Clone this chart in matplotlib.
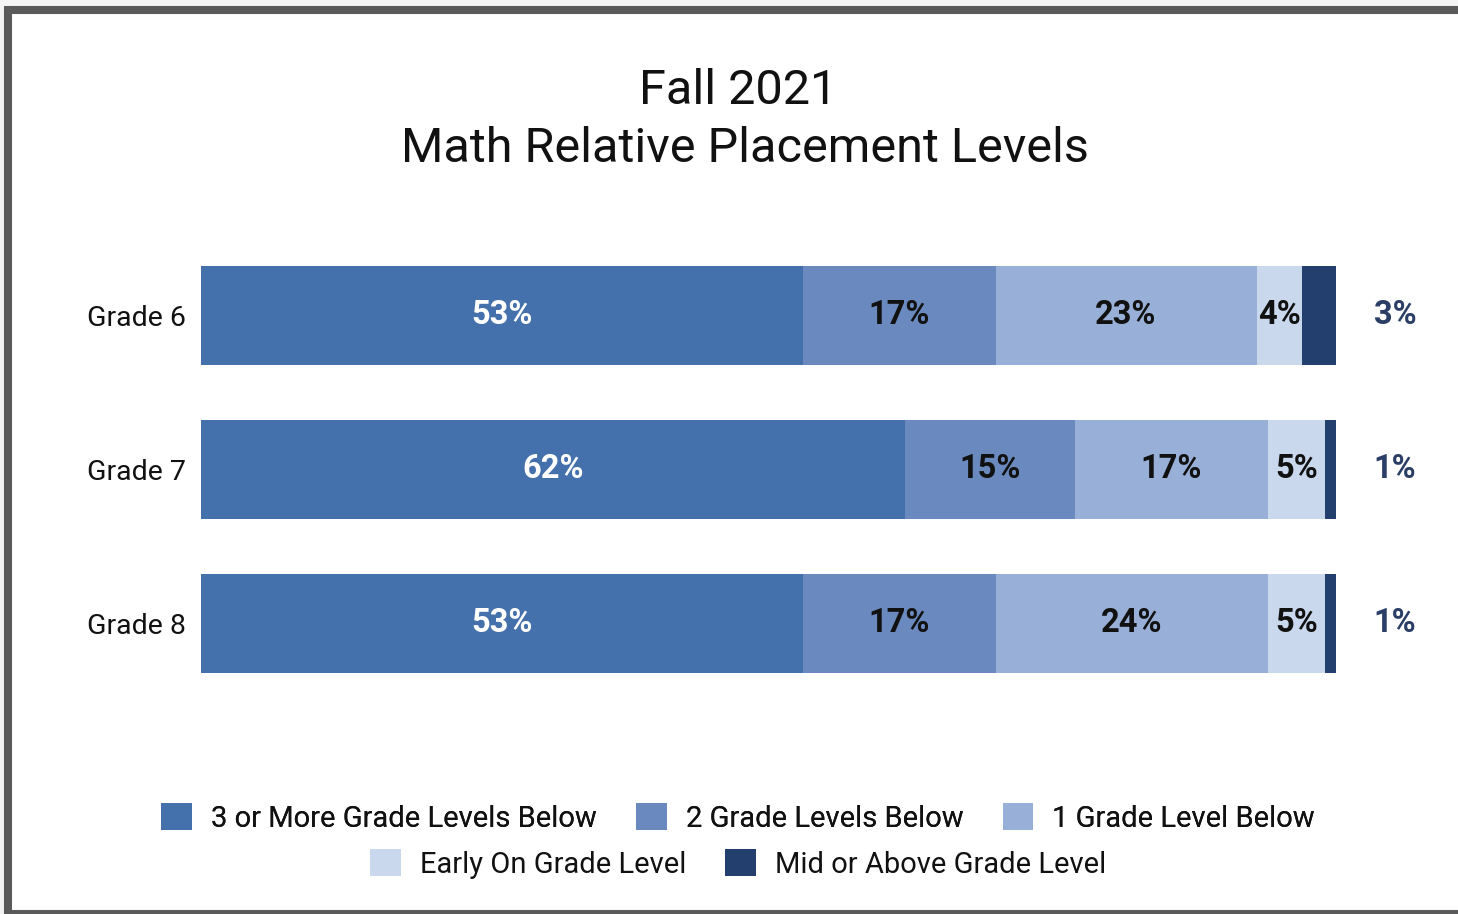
"""
Stacked horizontal bars of math relative placement levels by grade
"""
import matplotlib.pyplot as plt
from matplotlib.patches import Rectangle, Patch

plt.rcParams['font.family'] = ['Roboto', 'DejaVu Sans']

grades = ["Grade 6", "Grade 7", "Grade 8"]
levels = ["3 or More Grade Levels Below", "2 Grade Levels Below", "1 Grade Level Below",
          "Early On Grade Level", "Mid or Above Grade Level"]
three_plus_below = [53, 62, 53]
two_below = [17, 15, 17]
one_below = [23, 17, 24]
early_on = [4, 5, 5]
mid_above = [3, 1, 1]

series = [three_plus_below, two_below, one_below, early_on, mid_above]
colors = ["#4470ab", "#6a89bf", "#98afd7", "#c9d8ed", "#233f6e"]
label_colors = ["white", "#111111", "#111111", "#111111", None]

W, H = 1458, 914
fig = plt.figure(figsize=(W / 100, H / 100), dpi=100, facecolor="#f4f4f4")

# card with a dark frame, kept behind the axes
fig.patches.append(Rectangle((8 / W, 0), 1.2, 1 - 10 / H, transform=fig.transFigure,
                             facecolor="white", edgecolor="#5a5a5a", linewidth=5.8, zorder=-1))

ax = fig.add_axes([201 / W, 1 - 700 / H, 1135 / W, 462 / H])
ax.set_facecolor("none")

bar_h = 99 / 154
left = [0, 0, 0]
for vals, col, lcol in zip(series, colors, label_colors):
    ax.barh(range(len(grades)), vals, left=left, height=bar_h, color=col, linewidth=0)
    for i, v in enumerate(vals):
        if lcol is None:
            ax.text(105.2, i, f"{v}%", ha="center", va="center", fontsize=23.5,
                    fontweight="bold", color="#2b3f66", clip_on=False)
        else:
            ax.text(left[i] + v / 2, i, f"{v}%", ha="center", va="center", fontsize=23.5,
                    fontweight="bold", color=lcol)
    left = [a + b for a, b in zip(left, vals)]

ax.set_xlim(0, 100)
ax.set_ylim(2.5, -0.5)
ax.set_yticks(range(len(grades)))
ax.set_yticklabels(grades, fontsize=20.5, color="#111111")
ax.set_xticks([])
ax.tick_params(axis="y", length=0, pad=11)
for s in ax.spines.values():
    s.set_visible(False)

fig.text(738 / W, 1 - 91 / H, "Fall 2021", ha="center", va="center", fontsize=35, color="#111111")
fig.text(745 / W, 1 - 149 / H, "Math Relative Placement Levels", ha="center", va="center",
         fontsize=35, color="#111111")

handles = [Patch(facecolor=c, edgecolor="none") for c in colors]
common = dict(frameon=False, fontsize=21, handlelength=1.05, handleheight=1.05,
              handletextpad=0.65, columnspacing=1.35, labelcolor="#111111")
leg1 = fig.legend(handles[:3], levels[:3], loc="center", ncol=3,
                  bbox_to_anchor=(738 / W, 1 - 818 / H), **common)
fig.add_artist(leg1)
fig.legend(handles[3:], levels[3:], loc="center", ncol=2,
           bbox_to_anchor=(738 / W, 1 - 864 / H), **common)

fig.savefig("out.png", dpi=100, facecolor=fig.get_facecolor())
